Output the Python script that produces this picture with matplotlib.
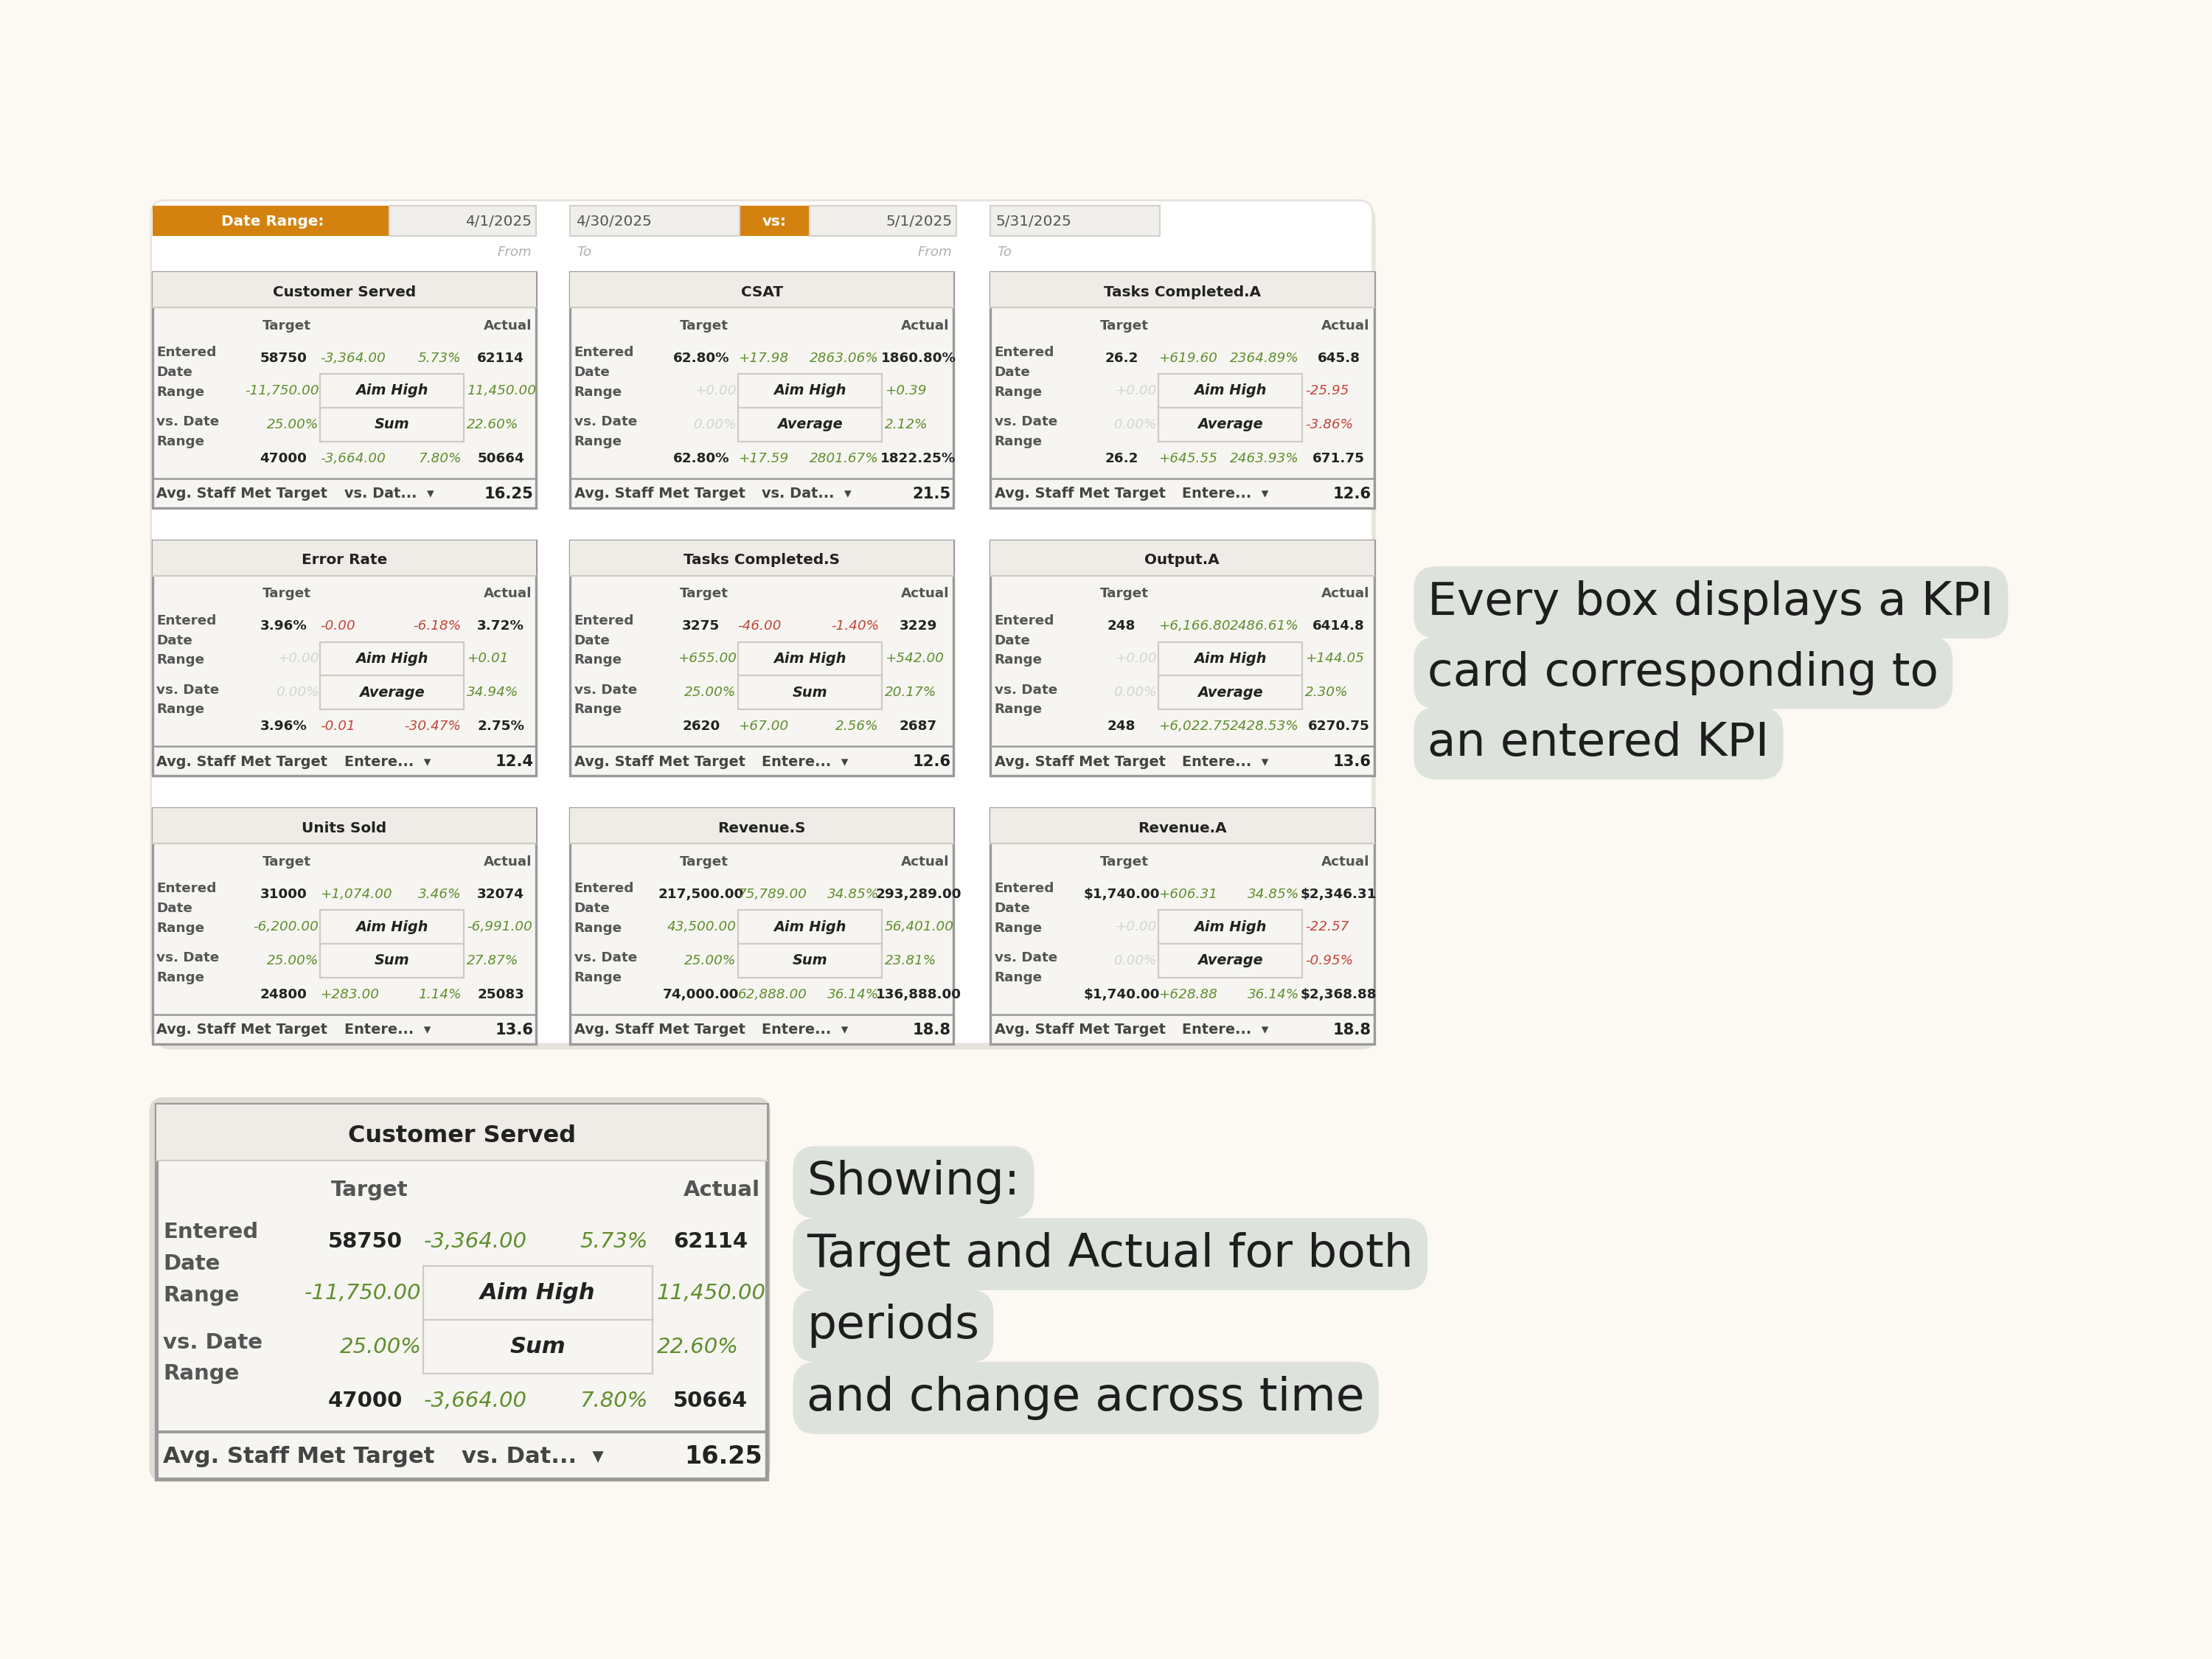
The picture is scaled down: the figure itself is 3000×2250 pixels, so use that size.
import matplotlib
matplotlib.use("Agg")
import matplotlib.pyplot as plt
from matplotlib.patches import Rectangle, FancyBboxPatch

plt.rcParams["font.family"] = ["DejaVu Sans"]

BG = "#fcf8f2"
ORANGE = "#d4820f"
GREEN = "#5f8f2f"
RED = "#c2453a"
LIGHT = "#d4d4d4"
DARK = "#222222"
GRID = "#9a9a9a"

# ---- data ----
titles = ["Customer Served", "CSAT", "Tasks Completed.A",
          "Error Rate", "Tasks Completed.S", "Output.A",
          "Units Sold", "Revenue.S", "Revenue.A"]
row1 = [["58750", "-3,364.00", "5.73%", "62114"],
        ["62.80%", "+17.98", "2863.06%", "1860.80%"],
        ["26.2", "+619.60", "2364.89%", "645.8"],
        ["3.96%", "-0.00", "-6.18%", "3.72%"],
        ["3275", "-46.00", "-1.40%", "3229"],
        ["248", "+6,166.80", "2486.61%", "6414.8"],
        ["31000", "+1,074.00", "3.46%", "32074"],
        ["217,500.00", "75,789.00", "34.85%", "293,289.00"],
        ["$1,740.00", "+606.31", "34.85%", "$2,346.31"]]
row2 = [["-11,750.00", "Aim High", "11,450.00"],
        ["+0.00", "Aim High", "+0.39"],
        ["+0.00", "Aim High", "-25.95"],
        ["+0.00", "Aim High", "+0.01"],
        ["+655.00", "Aim High", "+542.00"],
        ["+0.00", "Aim High", "+144.05"],
        ["-6,200.00", "Aim High", "-6,991.00"],
        ["43,500.00", "Aim High", "56,401.00"],
        ["+0.00", "Aim High", "-22.57"]]
row3 = [["25.00%", "Sum", "22.60%"],
        ["0.00%", "Average", "2.12%"],
        ["0.00%", "Average", "-3.86%"],
        ["0.00%", "Average", "34.94%"],
        ["25.00%", "Sum", "20.17%"],
        ["0.00%", "Average", "2.30%"],
        ["25.00%", "Sum", "27.87%"],
        ["25.00%", "Sum", "23.81%"],
        ["0.00%", "Average", "-0.95%"]]
row4 = [["47000", "-3,664.00", "7.80%", "50664"],
        ["62.80%", "+17.59", "2801.67%", "1822.25%"],
        ["26.2", "+645.55", "2463.93%", "671.75"],
        ["3.96%", "-0.01", "-30.47%", "2.75%"],
        ["2620", "+67.00", "2.56%", "2687"],
        ["248", "+6,022.75", "2428.53%", "6270.75"],
        ["24800", "+283.00", "1.14%", "25083"],
        ["74,000.00", "62,888.00", "36.14%", "136,888.00"],
        ["$1,740.00", "+628.88", "36.14%", "$2,368.88"]]
dropdowns = ["vs. Dat...", "vs. Dat...", "Entere...",
             "Entere...", "Entere...", "Entere...",
             "Entere...", "Entere...", "Entere..."]
footer_vals = ["16.25", "21.5", "12.6", "12.4", "12.6", "13.6", "13.6", "18.8", "18.8"]

header_cells = ["4/1/2025", "4/30/2025", "5/1/2025", "5/31/2025"]
note1 = ["Every box displays a KPI", "card corresponding to", "an entered KPI"]
note2 = ["Showing:", "Target and Actual for both", "periods", "and change across time"]

U = 15 * 72 / 1568  # points per layout unit

fig = plt.figure(figsize=(15, 11.25), dpi=200, facecolor=BG)
ax = fig.add_axes([0, 0, 1, 1])
ax.set_xlim(0, 1568)
ax.set_ylim(1176, 0)
ax.axis("off")


def val_color(s, title):
    if s in ("+0.00", "0.00%"):
        return LIGHT
    if s.startswith("-") and title not in ("Customer Served", "Units Sold"):
        return RED
    return GREEN


def ctext(x, y, s, x0, x1, y0, y1, **kw):
    clip = Rectangle((x0, y0), x1 - x0, y1 - y0, transform=ax.transData, visible=False)
    ax.add_patch(clip)
    t = ax.text(x, y, s, va="center", **kw)
    t.set_clip_path(clip)
    return t


def draw_card(i, x, y, k=1.0):
    W, H = 272 * k, 167 * k
    fs = 9.6 * k * U
    title = titles[i]
    ax.add_patch(Rectangle((x, y), W, H, facecolor="#f7f5f1", edgecolor=GRID, lw=1.2 * k, zorder=2))
    ax.add_patch(Rectangle((x, y), W, 25 * k, facecolor="#efece7", edgecolor="none", zorder=2))
    ax.plot([x, x + W], [y + 25 * k, y + 25 * k], color="#d0ccc4", lw=0.8, zorder=3)
    ax.text(x + W / 2, y + 14 * k, title, ha="center", va="center", fontsize=10.5 * k * U,
            fontweight="bold", color=DARK, zorder=4)
    ax.text(x + 95 * k, y + 38 * k, "Target", ha="center", va="center", fontsize=fs,
            fontweight="bold", color="#555555", zorder=4)
    ax.text(x + 269 * k, y + 38 * k, "Actual", ha="right", va="center", fontsize=fs,
            fontweight="bold", color="#555555", zorder=4)
    for lab, dy in [("Entered", 57), ("Date", 71), ("Range", 85), ("vs. Date", 106), ("Range", 120)]:
        ax.text(x + 3 * k, y + dy * k, lab, ha="left", va="center", fontsize=fs,
                fontweight="bold", color="#555555", zorder=4)
    # aim box
    ax.add_patch(Rectangle((x + 119 * k, y + 72 * k), 102 * k, 48 * k, facecolor="none",
                           edgecolor="#cfcac2", lw=0.8, zorder=3))
    ax.plot([x + 119 * k, x + 221 * k], [y + 96 * k, y + 96 * k], color="#cfcac2", lw=0.8, zorder=3)

    for r, ry in [(row1[i], 61), (row4[i], 132)]:
        yy = y + ry * k
        y0, y1 = yy - 10 * k, yy + 10 * k
        ctext(x + 93 * k, yy, r[0], x + 64 * k, x + 118 * k, y0, y1, ha="center",
              fontsize=fs, fontweight="bold", color=DARK, zorder=4)
        ctext(x + 119 * k, yy, r[1], x + 118 * k, x + 170 * k, y0, y1, ha="left",
              fontsize=fs, style="italic", color=val_color(r[1], title), zorder=4)
        ctext(x + 219 * k, yy, r[2], x + 170 * k, x + 220 * k, y0, y1, ha="right",
              fontsize=fs, style="italic", color=val_color(r[2], title), zorder=4)
        ctext(x + 247 * k, yy, r[3], x + 221 * k, x + 272 * k, y0, y1, ha="center",
              fontsize=fs, fontweight="bold", color=DARK, zorder=4)
    for r, ry in [(row2[i], 84), (row3[i], 108)]:
        yy = y + ry * k
        y0, y1 = yy - 10 * k, yy + 10 * k
        ctext(x + 118 * k, yy, r[0], x + 64 * k, x + 119 * k, y0, y1, ha="right",
              fontsize=fs, style="italic", color=val_color(r[0], title), zorder=4)
        ax.text(x + 170 * k, yy, r[1], ha="center", va="center", fontsize=fs * 1.05,
                fontweight="bold", style="italic", color=DARK, zorder=4)
        ctext(x + 223 * k, yy, r[2], x + 222 * k, x + 271 * k, y0, y1, ha="left",
              fontsize=fs, style="italic", color=val_color(r[2], title), zorder=4)
    # footer
    ax.plot([x, x + W], [y + 146 * k, y + 146 * k], color=GRID, lw=0.9 * k, zorder=3)
    yy = y + 157 * k
    ctext(x + 3 * k, yy, "Avg. Staff Met Target", x, x + 119 * k, yy - 10 * k, yy + 10 * k,
          ha="left", fontsize=fs * 1.05, fontweight="bold", color="#444444", zorder=4)
    ax.text(x + 136 * k, yy, dropdowns[i] + "  \u25be", ha="left", va="center", fontsize=fs * 1.05,
            fontweight="bold", color="#444444", zorder=4)
    ax.text(x + 270 * k, yy, footer_vals[i], ha="right", va="center", fontsize=fs * 1.15,
            fontweight="bold", color=DARK, zorder=4)


# main panel with shadow
ax.add_patch(FancyBboxPatch((111, 146), 864, 598, boxstyle="round,pad=0,rounding_size=10",
                            facecolor="#e6e2dc", edgecolor="none", zorder=0))
ax.add_patch(FancyBboxPatch((107, 142), 866, 598, boxstyle="round,pad=0,rounding_size=10",
                            facecolor="white", edgecolor="#e8e4de", zorder=1))

# header
ax.add_patch(Rectangle((108, 146), 168, 21, facecolor=ORANGE, edgecolor="none", zorder=2))
ax.text(193, 157, "Date Range:", ha="center", va="center", fontsize=10.5 * U,
        fontweight="bold", color="white", zorder=3)
ax.add_patch(Rectangle((524, 146), 50, 21, facecolor=ORANGE, edgecolor="none", zorder=2))
ax.text(549, 157, "vs:", ha="center", va="center", fontsize=10.5 * U,
        fontweight="bold", color="white", zorder=3)
cells = [(276, 380, "right"), (404, 524, "left"), (574, 678, "right"), (702, 822, "left")]
for (c0, c1, ha), s in zip(cells, header_cells):
    ax.add_patch(Rectangle((c0, 146), c1 - c0, 21, facecolor="#f1efec", edgecolor="#d5d2cd",
                           lw=0.8, zorder=2))
    tx = c1 - 3 if ha == "right" else c0 + 4
    ax.text(tx, 157, s, ha=ha, va="center", fontsize=10.5 * U, color="#555555", zorder=3)
for tx, s, ha in [(377, "From", "right"), (409, "To", "left"), (675, "From", "right"), (707, "To", "left")]:
    ax.text(tx, 179, s, ha=ha, va="center", fontsize=9.5 * U, style="italic", color="#b0b0b0", zorder=3)

col_x = [108, 404, 702]
row_y = [193, 383, 573]
for i in range(9):
    draw_card(i, col_x[i % 3], row_y[i // 3])

# enlarged card
ax.add_patch(FancyBboxPatch((108, 780), 436, 268, boxstyle="round,pad=0,rounding_size=8",
                            facecolor="white", edgecolor="#dedad4", lw=3, zorder=1))
draw_card(0, 111, 783, k=1.59)


def note(lines, x, y0, step, size):
    for j, s in enumerate(lines):
        ax.text(x, y0 + j * step, s, ha="left", va="center", fontsize=size * U, color="#1e1e1e",
                zorder=5,
                bbox=dict(boxstyle="round,pad=0.3,rounding_size=0.5", facecolor="#dde2dc",
                          edgecolor="none"))


note(note1, 1012, 427, 50, 33)
note(note2, 572, 838, 51, 33)

fig.savefig("out.png", dpi=200, facecolor=BG)
